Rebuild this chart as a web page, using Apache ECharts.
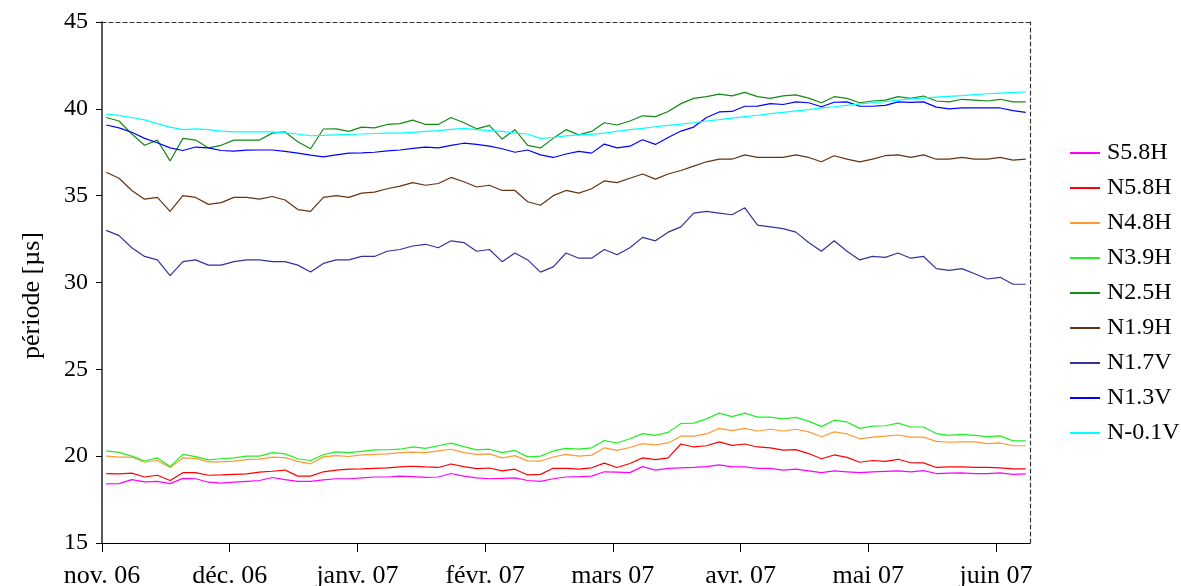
<!DOCTYPE html>
<html>
<head>
<meta charset="utf-8">
<script src="https://cdn.jsdelivr.net/npm/echarts@6/dist/echarts.min.js"></script>
<style>
  html, body { margin: 0; padding: 0; background: #fff; }
  #chart { width: 1181px; height: 586px; }
</style>
</head>
<body>
<div id="chart"></div>
<script>
// jours depuis le 1er nov. 2006
const days = [1,4,7,10,13,16,19,22,25,28,31,34,
  37,40,43,46,49,52,55,58,61,64,67,70,
  73,76,79,82,85,88,91,94,97,100,103,106,
  109,112,115,118,121,124,127,130,133,136,139,142,
  145,148,151,154,157,160,163,166,169,172,175,178,
  181,184,187,190,193,196,199,202,205,208,211,214,217];

const monthLabels = ['nov. 06','déc. 06','janv. 07','févr. 07','mars 07','avr. 07','mai 07','juin 07'];

const seriesNames = ['S5.8H','N5.8H','N4.8H','N3.9H','N2.5H','N1.9H','N1.7V','N1.3V','N-0.1V'];
const seriesColors = ['#ff00ff','#ff0000','#ff9933','#22ee22','#138a13','#663311','#333399','#0000ff','#00ffff'];

const s58H = [18.4,18.42,18.65,18.52,18.55,18.42,18.72,18.7,18.5,18.45,18.5,18.55,
  18.6,18.77,18.65,18.55,18.55,18.63,18.7,18.7,18.75,18.8,18.8,18.85,
  18.82,18.78,18.8,19.0,18.85,18.75,18.7,18.72,18.75,18.6,18.55,18.7,
  18.8,18.82,18.85,19.1,19.08,19.05,19.4,19.2,19.3,19.33,19.35,19.4,
  19.5,19.38,19.38,19.3,19.3,19.2,19.25,19.15,19.05,19.15,19.1,19.05,
  19.1,19.13,19.15,19.1,19.17,19.0,19.02,19.04,19.0,19.0,19.04,18.95,18.98];

const n58H = [19.0,18.98,19.02,18.8,18.9,18.6,19.05,19.05,18.9,18.92,18.95,18.98,
  19.08,19.13,19.2,18.85,18.85,19.1,19.2,19.25,19.27,19.3,19.33,19.38,
  19.42,19.38,19.35,19.55,19.4,19.28,19.32,19.15,19.25,18.92,18.95,19.3,
  19.3,19.25,19.33,19.6,19.35,19.58,19.9,19.8,19.9,20.7,20.53,20.6,
  20.82,20.62,20.7,20.53,20.48,20.35,20.38,20.15,19.85,20.07,19.93,19.65,
  19.75,19.7,19.82,19.62,19.61,19.35,19.38,19.38,19.35,19.35,19.33,19.27,19.27];

const n48H = [20.0,19.95,19.95,19.65,19.75,19.35,19.9,19.87,19.67,19.67,19.72,19.8,
  19.83,19.95,19.92,19.7,19.56,19.96,20.03,19.98,20.07,20.1,20.13,20.2,
  20.23,20.2,20.3,20.4,20.2,20.1,20.13,19.9,20.03,19.73,19.72,19.95,
  20.1,20.0,20.06,20.48,20.33,20.5,20.72,20.65,20.76,21.15,21.15,21.28,
  21.6,21.47,21.6,21.45,21.55,21.45,21.55,21.4,21.12,21.4,21.28,21.0,
  21.1,21.15,21.22,21.1,21.1,20.85,20.8,20.82,20.82,20.72,20.76,20.6,20.6];

const n39H = [20.3,20.22,20.0,19.72,19.9,19.4,20.1,19.97,19.79,19.85,19.9,20.0,
  20.0,20.2,20.13,19.85,19.75,20.08,20.25,20.2,20.28,20.36,20.37,20.4,
  20.53,20.45,20.6,20.75,20.55,20.36,20.4,20.2,20.33,19.96,20.0,20.3,
  20.45,20.4,20.48,20.9,20.76,21.0,21.3,21.2,21.37,21.88,21.9,22.15,
  22.48,22.28,22.48,22.25,22.25,22.15,22.23,22.02,21.7,22.07,21.97,21.6,
  21.73,21.75,21.9,21.68,21.68,21.3,21.2,21.25,21.2,21.13,21.17,20.88,20.88];

const n25H = [39.5,39.3,38.55,37.9,38.2,37.0,38.3,38.2,37.75,37.9,38.2,38.2,
  38.2,38.6,38.67,38.1,37.7,38.84,38.85,38.7,38.95,38.9,39.1,39.15,
  39.35,39.1,39.1,39.5,39.2,38.85,39.05,38.26,38.8,37.9,37.75,38.3,
  38.8,38.5,38.7,39.2,39.07,39.3,39.6,39.55,39.85,40.3,40.6,40.7,
  40.85,40.75,40.95,40.7,40.6,40.75,40.8,40.62,40.35,40.7,40.6,40.35,
  40.45,40.5,40.7,40.6,40.74,40.45,40.4,40.55,40.5,40.45,40.55,40.4,40.4];

const n19H = [36.35,36.0,35.3,34.8,34.9,34.1,35.0,34.9,34.5,34.6,34.9,34.9,
  34.8,34.95,34.75,34.2,34.1,34.9,35.0,34.9,35.15,35.2,35.4,35.55,
  35.75,35.6,35.7,36.05,35.8,35.5,35.6,35.3,35.3,34.65,34.45,35.0,
  35.3,35.15,35.4,35.85,35.75,36.0,36.25,35.95,36.25,36.45,36.7,36.95,
  37.1,37.1,37.35,37.2,37.2,37.2,37.35,37.2,36.95,37.3,37.1,36.95,
  37.1,37.3,37.35,37.2,37.35,37.1,37.1,37.2,37.1,37.1,37.2,37.05,37.1];

const n17V = [33.0,32.7,32.0,31.5,31.3,30.4,31.2,31.3,31.0,31.0,31.2,31.3,
  31.3,31.2,31.2,31.0,30.6,31.1,31.3,31.3,31.5,31.5,31.8,31.9,
  32.1,32.2,32.0,32.4,32.3,31.8,31.9,31.2,31.7,31.3,30.6,30.9,
  31.7,31.4,31.4,31.9,31.6,32.0,32.6,32.4,32.9,33.2,34.0,34.1,
  34.0,33.9,34.3,33.3,33.2,33.1,32.9,32.3,31.8,32.4,31.8,31.3,
  31.5,31.45,31.7,31.4,31.5,30.8,30.7,30.8,30.5,30.2,30.3,29.9,29.9];

const n13V = [39.07,38.9,38.65,38.3,38.05,37.75,37.6,37.8,37.75,37.6,37.57,37.62,
  37.63,37.63,37.55,37.45,37.33,37.23,37.35,37.45,37.46,37.5,37.58,37.63,
  37.72,37.8,37.75,37.9,38.02,37.95,37.85,37.7,37.5,37.63,37.35,37.2,
  37.4,37.55,37.45,37.97,37.75,37.85,38.22,37.95,38.35,38.72,38.95,39.5,
  39.82,39.85,40.15,40.16,40.3,40.25,40.4,40.35,40.12,40.38,40.4,40.15,
  40.15,40.2,40.4,40.37,40.4,40.1,40.0,40.05,40.05,40.05,40.05,39.9,39.8];

const nm01V = [39.7,39.62,39.5,39.36,39.15,38.95,38.8,38.85,38.8,38.72,38.67,38.67,
  38.67,38.67,38.62,38.55,38.45,38.47,38.5,38.53,38.55,38.58,38.6,38.6,
  38.65,38.7,38.75,38.82,38.88,38.8,38.75,38.7,38.6,38.55,38.3,38.35,
  38.44,38.5,38.53,38.6,38.7,38.8,38.88,38.97,39.05,39.12,39.2,39.3,
  39.38,39.47,39.55,39.63,39.72,39.8,39.88,39.95,40.05,40.12,40.2,40.28,
  40.35,40.42,40.5,40.57,40.62,40.67,40.72,40.76,40.82,40.87,40.91,40.95,40.97];

const allValues = [s58H, n58H, n48H, n39H, n25H, n19H, n17V, n13V, nm01V];

const font = 'Liberation Serif';

const myChart = echarts.init(document.getElementById('chart'));

const series = seriesNames.map((name, k) => ({
  name: name,
  type: 'line',
  symbol: 'none',
  xAxisIndex: 0,
  yAxisIndex: 0,
  lineStyle: { width: 1.2, color: seriesColors[k] },
  itemStyle: { color: seriesColors[k] },
  data: days.map((d, i) => [d, allValues[k][i]])
}));

myChart.setOption({
  animation: false,
  backgroundColor: '#fff',
  grid: { left: 102, top: 22, right: 151, bottom: 43, containLabel: false, outerBoundsMode: 'none' },
  legend: {
    orient: 'vertical',
    left: 1070,
    top: 141,
    padding: 0,
    icon: 'rect',
    itemWidth: 30,
    itemHeight: 2,
    itemGap: 11,
    textStyle: { fontFamily: font, fontSize: 24, color: '#000', padding: [0, 0, 0, 2] },
    data: seriesNames
  },
  xAxis: [{
    type: 'value',
    min: 0,
    max: 218,
    interval: 30,
    axisLine: { onZero: false, lineStyle: { color: '#000', width: 1 } },
    axisTick: { show: true, length: 9, lineStyle: { color: '#000' } },
    splitLine: { show: false },
    axisLabel: {
      fontFamily: font, fontSize: 26, color: '#000', margin: 20,
      showMaxLabel: false,
      formatter: v => (v % 30 === 0 ? monthLabels[v / 30] : '')
    }
  }, {
    type: 'value',
    position: 'top',
    min: 0,
    max: 218,
    axisLine: { show: true, onZero: false, lineStyle: { color: '#333', type: [4, 3], width: 1.2 } },
    axisTick: { show: false },
    axisLabel: { show: false },
    splitLine: { show: false }
  }],
  yAxis: [{
    type: 'value',
    min: 15,
    max: 45,
    interval: 5,
    name: 'période [µs]',
    nameLocation: 'middle',
    nameGap: 57,
    nameTextStyle: { fontFamily: font, fontSize: 26, color: '#000', padding: [0, 26, 0, 0] },
    axisLine: { show: true, onZero: false, lineStyle: { color: '#222', width: 1.5 } },
    axisTick: { show: true, length: 6, lineStyle: { color: '#000' } },
    splitLine: { show: false },
    axisLabel: { fontFamily: font, fontSize: 24, color: '#000', margin: 14 }
  }, {
    type: 'value',
    position: 'right',
    min: 15,
    max: 45,
    axisLine: { show: true, onZero: false, lineStyle: { color: '#333', type: [4, 3], width: 1.2 } },
    axisTick: { show: false },
    axisLabel: { show: false },
    splitLine: { show: false }
  }],
  series: series
});
</script>
</body>
</html>
